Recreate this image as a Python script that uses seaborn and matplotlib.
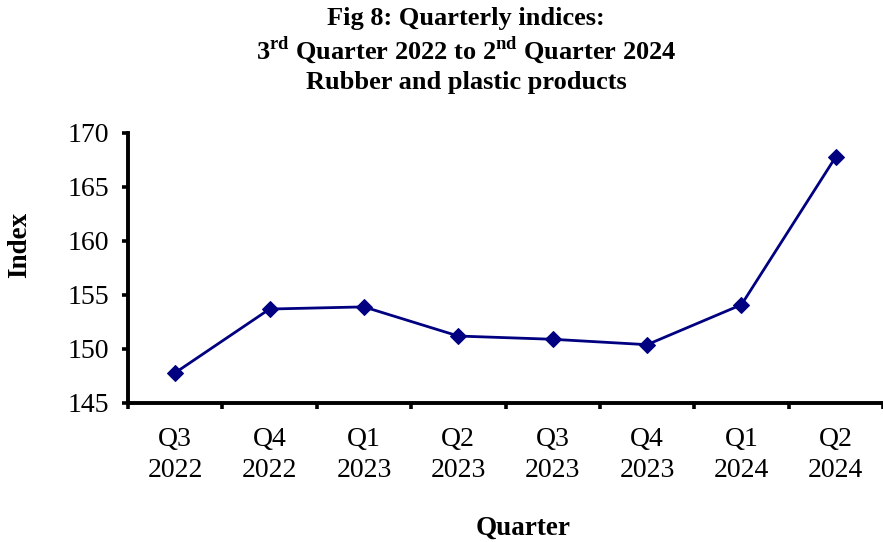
import matplotlib
matplotlib.use("Agg")
import matplotlib.pyplot as plt
import seaborn as sns
import pandas as pd
import numpy as np

quarters = ["Q3\n2022", "Q4\n2022", "Q1\n2023", "Q2\n2023",
            "Q3\n2023", "Q4\n2023", "Q1\n2024", "Q2\n2024"]
index_values = [147.8, 153.7, 153.9, 151.2, 150.9, 150.4, 154.1, 167.8]
y_ticks = [145, 150, 155, 160, 165, 170]

sns.set_theme(style="white")
plt.rcParams["font.family"] = ["Liberation Serif", "DejaVu Serif"]
plt.rcParams["mathtext.fontset"] = "custom"
plt.rcParams["mathtext.rm"] = "Liberation Serif:bold"
plt.rcParams["mathtext.bf"] = "Liberation Serif:bold"
for key in ["text.color", "axes.labelcolor", "xtick.color", "ytick.color"]:
    plt.rcParams[key] = "black"

df = pd.DataFrame({"pos": np.arange(len(quarters)), "Index": index_values})

fig = plt.figure(figsize=(8.83, 5.42), dpi=100)
ax = fig.add_axes([128 / 883, 1 - 403 / 542, (883 - 128) / 883, (403 - 133) / 542])

sns.lineplot(data=df, x="pos", y="Index", ax=ax, color="#000080", linewidth=2.0,
             marker="D", markersize=8.5, markeredgecolor="#000080",
             markerfacecolor="#000080")

ax.set_xlim(-0.5, len(quarters) - 0.5)
ax.set_ylim(145, 170)
ax.set_yticks(y_ticks)
ax.set_yticklabels([str(t) for t in y_ticks], fontsize=20)

# category labels sit between boundary ticks
ax.set_xticks(np.arange(len(quarters) + 1) - 0.5)
ax.set_xticklabels([])
ax.set_xticks(np.arange(len(quarters)), minor=True)
ax.set_xticklabels(quarters, minor=True, fontsize=20, linespacing=1.35)
ax.tick_params(axis="x", which="minor", length=0, pad=17)
ax.tick_params(axis="both", which="major", direction="out", length=4.5, width=2.6,
               color="black", bottom=True, left=True)
ax.tick_params(axis="y", pad=9)

for side in ["top", "right"]:
    ax.spines[side].set_visible(False)
for side in ["left", "bottom"]:
    ax.spines[side].set_linewidth(2.8)
    ax.spines[side].set_color("black")

ax.set_xlabel("")
ax.set_ylabel("")
fig.text(20 / 883, 1 - 245 / 542, "Index", rotation=90, ha="center", va="center",
         fontsize=19.5, fontweight="bold")
fig.text(523 / 883, 1 - 528 / 542, "Quarter", ha="center", va="center",
         fontsize=19.5, fontweight="bold")

title_kw = dict(ha="center", va="center", fontsize=19, fontweight="bold")
fig.text(466 / 883, 1 - 18 / 542, "Fig 8: Quarterly indices:", **title_kw)
fig.text(466 / 883, 1 - 50 / 542,
         r"3$^{\mathrm{rd}}$ Quarter 2022 to 2$^{\mathrm{nd}}$ Quarter 2024", **title_kw)
fig.text(466 / 883, 1 - 82 / 542, "Rubber and plastic products", **title_kw)

fig.savefig("out.png", dpi=100)
